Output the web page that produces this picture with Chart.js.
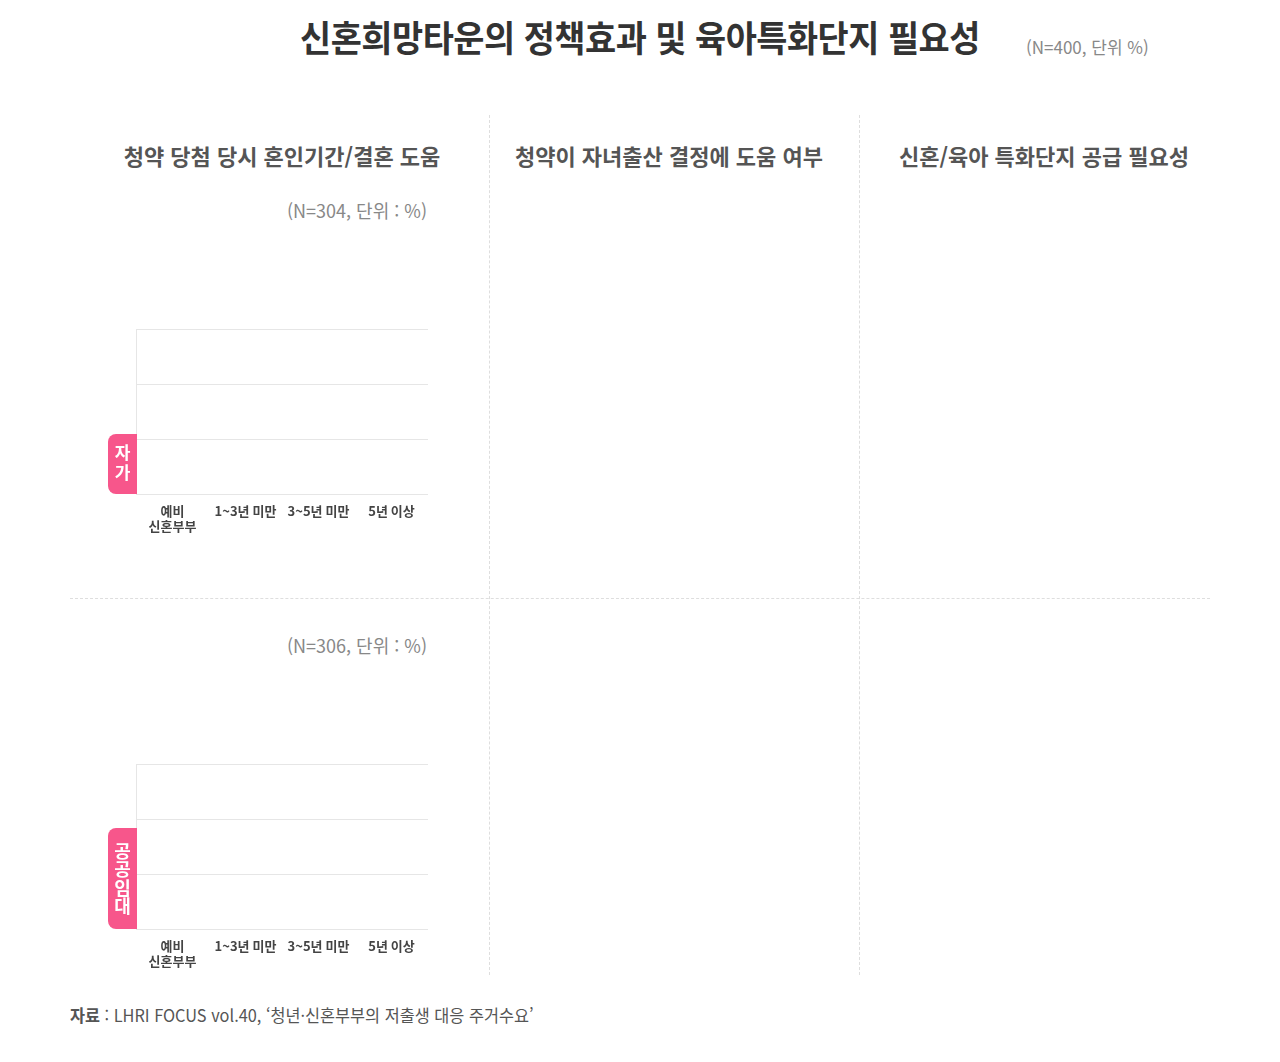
<!DOCTYPE html>
<html lang="ko">
<head>
<meta charset="utf-8">
<script src="https://cdn.jsdelivr.net/npm/chart.js@4/dist/chart.umd.min.js"></script>
<style>
  html, body { margin: 0; padding: 0; background: #fff; }
  body { width: 1280px; height: 1062px; position: relative; overflow: hidden;
         font-family: "Noto Sans CJK KR", "Noto Sans", sans-serif; }
  .abs { position: absolute; white-space: nowrap; }
  .title { left: 300px; top: 10px; font-size: 36px; font-weight: 700; color: #333;
           transform: scaleX(0.94); transform-origin: left top; letter-spacing: -0.5px; }
  .subtitle { left: 1026px; top: 34px; font-size: 17px; color: #888; }
  .coltitle { top: 139px; font-size: 22px; font-weight: 700; color: #555;
              transform: translateX(-50%); }
  .unit { font-size: 18px; color: #888; transform: translateX(-100%); }
  .vline { width: 0; border-left: 1px dashed #dedede; top: 115px; height: 860px; }
  .hline { height: 0; border-top: 1px dashed #dedede; left: 70px; width: 1140px; top: 598px; }
  .tab { background: #f7568b; color: #fff; font-weight: 700;
         border-radius: 8px 0 0 8px; left: 108px; width: 29px;
         display: flex; align-items: center; justify-content: center; }
  .tab span { writing-mode: vertical-rl; }
  .tab.v span { text-orientation: upright; font-size: 17px; line-height: 1; letter-spacing: 3px; }
  .tab.r span { font-size: 18px; line-height: 1; letter-spacing: 0.5px; }
  .chartbox { position: absolute; left: 136px; width: 292px; height: 205px; }
  .source { left: 70px; top: 1002px; font-size: 17px; color: #555;
            transform: scaleX(0.96); transform-origin: left top; }
</style>
</head>
<body>
<div class="abs title">신혼희망타운의 정책효과 및 육아특화단지 필요성</div>
<div class="abs subtitle">(N=400, 단위 %)</div>

<div class="abs vline" style="left:489px"></div>
<div class="abs vline" style="left:859px"></div>
<div class="abs hline"></div>

<div class="abs coltitle" style="left:282px">청약 당첨 당시 혼인기간/결혼 도움</div>
<div class="abs coltitle" style="left:669px">청약이 자녀출산 결정에 도움 여부</div>
<div class="abs coltitle" style="left:1044px">신혼/육아 특화단지 공급 필요성</div>

<div class="abs unit" style="left:427px; top:197px">(N=304, 단위 : %)</div>
<div class="abs unit" style="left:427px; top:632px">(N=306, 단위 : %)</div>

<div class="chartbox" style="top:329px"><canvas id="chartOwn"></canvas></div>
<div class="chartbox" style="top:764px"><canvas id="chartPublic"></canvas></div>

<div class="abs tab v" style="top:434px; height:60px"><span>자가</span></div>
<div class="abs tab r" style="top:828px; height:101px"><span>공공임대</span></div>

<div class="abs source"><b>자료</b> : LHRI FOCUS vol.40, ‘청년·신혼부부의 저출생 대응 주거수요’</div>

<script>
// 혼인기간 구분
const periods = [["예비", "신혼부부"], "1~3년 미만", "3~5년 미만", "5년 이상"];
// 그림에 막대가 보이지 않음 (0으로 읽음)
const ownValues = [0, 0, 0, 0];
const publicValues = [0, 0, 0, 0];
const yTicks = [0, 20, 40, 60];

function makeChart(id, label, values) {
    const ctx = document.getElementById(id).getContext("2d");
    return new Chart(ctx, {
        type: 'bar',
        data: {
            labels: periods,
            datasets: [{
                label: label,
                data: values,
                backgroundColor: '#f7568b',
                borderWidth: 0,
            }]
        },
        options: {
            responsive: true,
            maintainAspectRatio: false,
            animation: false,
            layout: { padding: 0 },
            plugins: { legend: { display: false }, tooltip: { enabled: false } },
            scales: {
                x: {
                    grid: { display: false },
                    border: { display: false },
                    ticks: {
                        color: '#444',
                        font: { family: '"Noto Sans CJK KR"', size: 13, weight: 'bold' },
                        padding: 0,
                        maxRotation: 0,
                        autoSkip: false,
                    }
                },
                y: {
                    min: yTicks[0],
                    max: yTicks[yTicks.length - 1],
                    ticks: { display: false, stepSize: yTicks[1] - yTicks[0] },
                    grid: { color: '#e6e6e6', drawTicks: false },
                    border: { display: true, color: '#e6e6e6' },
                }
            }
        }
    });
}

makeChart("chartOwn", "자가", ownValues);
makeChart("chartPublic", "공공임대", publicValues);
</script>
</body>
</html>
